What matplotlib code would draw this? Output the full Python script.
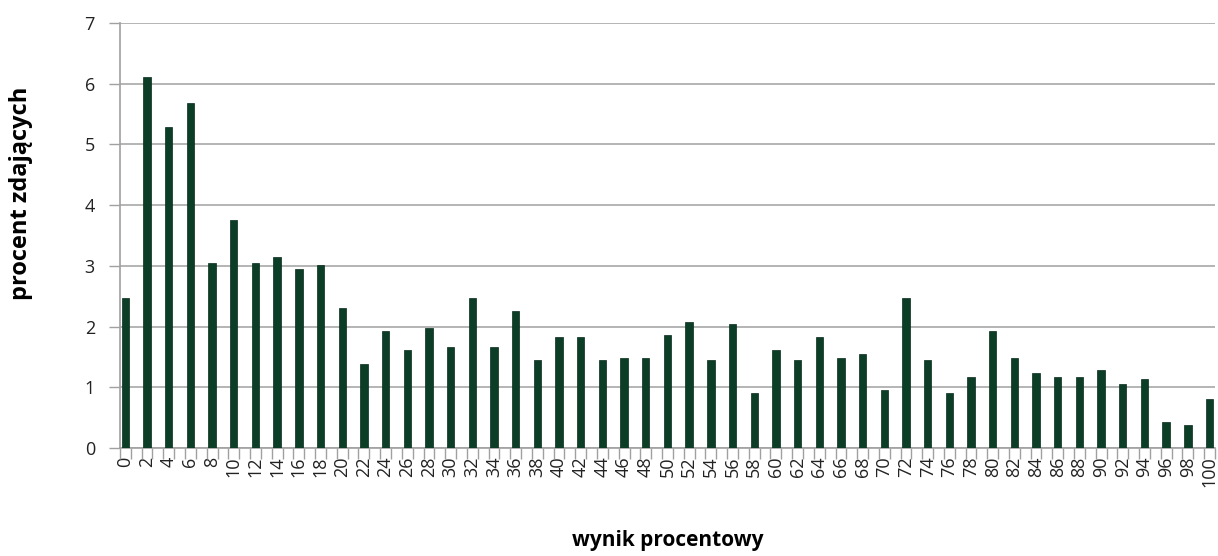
import matplotlib
matplotlib.use("Agg")
import matplotlib.pyplot as plt
import numpy as np

# score (%) on the category axis, every point 0..100; bars only at even scores
scores = list(range(0, 101, 2))
percent = [2.47, 6.10, 5.29, 5.68, 3.04, 3.75, 3.04, 3.15, 2.94, 3.01,
           2.30, 1.38, 1.93, 1.62, 1.97, 1.66, 2.47, 1.66, 2.25, 1.45,
           1.83, 1.83, 1.45, 1.49, 1.49, 1.87, 2.08, 1.45, 2.04, 0.91,
           1.62, 1.45, 1.83, 1.49, 1.55, 0.96, 2.47, 1.45, 0.91, 1.17,
           1.93, 1.49, 1.24, 1.17, 1.17, 1.28, 1.06, 1.13, 0.43, 0.38,
           0.81]
tick_labels = [str(s) for s in scores]

plt.rcParams["font.family"] = ["Open Sans", "DejaVu Sans"]

fig = plt.figure(figsize=(12.18, 5.56), dpi=100)
ax = fig.add_axes([0.0985, 0.194, 0.899, 0.765])

bar_color = "#0b3d27"
ax.bar(scores, percent, width=0.68, color=bar_color, zorder=3,
       edgecolor="#062a1a", linewidth=0.5)

ax.set_xlim(-0.5, 100.5)
ax.set_ylim(0, 7)
ax.set_yticks(range(0, 8))
ax.set_xticks(scores)
ax.set_xticklabels(tick_labels, rotation=90, fontsize=13, color="#222222")
ax.set_xticks(np.arange(-0.5, 101, 1), minor=True)

ax.tick_params(axis="x", which="major", length=0, pad=6)
ax.tick_params(axis="x", which="minor", length=8, color="#a0a0a0", width=1)
ax.tick_params(axis="y", length=8, color="#a0a0a0", width=1, labelsize=13,
               labelcolor="#222222", pad=10)

ax.grid(axis="y", color="#a8a8a8", linewidth=1.2, zorder=0)
for side in ("top", "right"):
    ax.spines[side].set_visible(False)
for side in ("left", "bottom"):
    ax.spines[side].set_color("#a0a0a0")
    ax.spines[side].set_linewidth(1.2)

ax.set_xlabel("wynik procentowy", fontsize=15, fontweight="bold", labelpad=31)
ax.set_ylabel("procent zdających", fontsize=17, fontweight="bold")
ax.yaxis.set_label_coords(-0.079, 0.60)

fig.savefig("out.png", dpi=100)
